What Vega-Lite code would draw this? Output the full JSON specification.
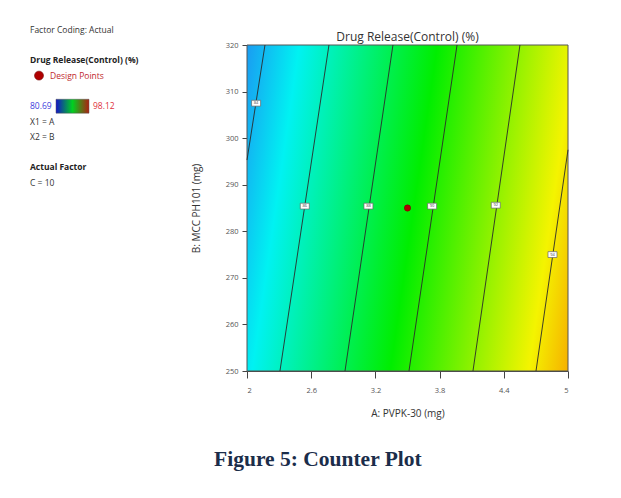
{
  "$schema": "https://vega.github.io/schema/vega-lite/v6.json",
  "autosize": {"type": "pad"},
  "padding": {"left": 20, "top": 25, "right": 5, "bottom": 5},
  "background": "white",
  "datasets": {
    "legend": [
      {"line": 1, "text": "Factor Coding: Actual", "role": "note"},
      {"line": 3, "text": "Drug Release(Control) (%)", "role": "heading"},
      {"line": 4, "text": "Design Points", "role": "entry"},
      {"line": 6, "text": "80.69", "role": "min"},
      {"line": 6, "text": "98.12", "role": "max"},
      {"line": 7, "text": "X1 = A", "role": "note"},
      {"line": 8, "text": "X2 = B", "role": "note"},
      {"line": 10, "text": "Actual Factor", "role": "heading"},
      {"line": 11, "text": "C = 10", "role": "note"}
    ],
    "region": [{"a_lo": 2, "a_hi": 5, "b_lo": 250, "b_hi": 320}],
    "contours": [
      {"level": 84, "A": 2.168, "B": 320}, {"level": 84, "A": 2.0, "B": 295.3},
      {"level": 86, "A": 2.766, "B": 320}, {"level": 86, "A": 2.308, "B": 250},
      {"level": 88, "A": 3.364, "B": 320}, {"level": 88, "A": 2.916, "B": 250},
      {"level": 90, "A": 3.963, "B": 320}, {"level": 90, "A": 3.514, "B": 250},
      {"level": 92, "A": 4.551, "B": 320}, {"level": 92, "A": 4.112, "B": 250},
      {"level": 94, "A": 5.0, "B": 297.5}, {"level": 94, "A": 4.701, "B": 250}
    ],
    "contourLabels": [
      {"level": 84, "A": 2.085, "B": 307.5},
      {"level": 86, "A": 2.54, "B": 285.4},
      {"level": 88, "A": 3.135, "B": 285.4},
      {"level": 90, "A": 3.73, "B": 285.4},
      {"level": 92, "A": 4.325, "B": 285.6},
      {"level": 94, "A": 4.855, "B": 275}
    ],
    "designPoints": [{"A": 3.5, "B": 285}]
  },
  "title": {
    "text": "Figure 5: Counter Plot",
    "orient": "bottom",
    "anchor": "middle",
    "font": "Liberation Serif",
    "fontSize": 21.5,
    "fontWeight": "bold",
    "color": "#1b2d4a",
    "offset": 30,
    "dx": 23
  },
  "bounds": "flush",
  "spacing": 207,
  "hconcat": [
    {
      "width": 20,
      "height": 306,
      "data": {"name": "legend"},
      "encoding": {
        "y": {"field": "line", "type": "quantitative", "scale": {"domain": [2, 22], "reverse": true, "nice": false, "zero": false}, "axis": null}
      },
      "layer": [
        {
          "transform": [{"filter": "datum.role === 'note'"}],
          "mark": {"type": "text", "align": "left", "baseline": "middle", "fontSize": 8.5, "color": "#333"},
          "encoding": {"text": {"field": "text"}}
        },
        {
          "transform": [{"filter": "datum.role === 'heading'"}],
          "mark": {"type": "text", "align": "left", "baseline": "middle", "fontSize": 8.5, "fontWeight": "bold", "color": "#222"},
          "encoding": {"text": {"field": "text"}}
        },
        {
          "transform": [{"filter": "datum.role === 'entry'"}],
          "mark": {"type": "point", "shape": "circle", "filled": true, "size": 80, "xOffset": 9, "fill": "#b00000", "stroke": "#700000", "strokeWidth": 0.6, "opacity": 1},
          "encoding": {}
        },
        {
          "transform": [{"filter": "datum.role === 'entry'"}],
          "mark": {"type": "text", "align": "left", "baseline": "middle", "fontSize": 8.5, "dx": 20, "color": "#c0282d"},
          "encoding": {"text": {"field": "text"}}
        },
        {
          "transform": [{"filter": "datum.role === 'min'"}],
          "mark": {"type": "text", "align": "left", "baseline": "middle", "fontSize": 8.5, "color": "#3c3cdc"},
          "encoding": {"text": {"field": "text"}}
        },
        {
          "transform": [{"filter": "datum.role === 'min'"}],
          "mark": {
            "type": "point", "shape": "M-1,-0.42L1,-0.42L1,0.42L-1,0.42Z", "size": 1089, "xOffset": 42.5, "filled": true, "opacity": 1,
            "fill": {"gradient": "linear", "x1": 0, "y1": 0, "x2": 1, "y2": 0, "stops": [
              {"offset": 0, "color": "#1414c8"}, {"offset": 0.5, "color": "#00d020"}, {"offset": 1, "color": "#b01e10"}
            ]},
            "stroke": "#555", "strokeWidth": 0.5
          },
          "encoding": {}
        },
        {
          "transform": [{"filter": "datum.role === 'max'"}],
          "mark": {"type": "text", "align": "left", "baseline": "middle", "fontSize": 8.5, "dx": 63, "color": "#e0303c"},
          "encoding": {"text": {"field": "text"}}
        }
      ]
    },
    {
      "width": 321,
      "height": 326,
      "title": {"text": "Drug Release(Control) (%)", "fontSize": 12, "fontWeight": "normal", "color": "#333", "offset": -3, "font": "Open Sans"},
      "layer": [
        {
          "data": {"name": "region"},
          "mark": {
            "type": "rect",
            "fill": {"gradient": "linear", "x1": 0, "y1": 0, "x2": 1.123, "y2": 0.165, "stops": [
              {"offset": 0, "color": "#1a9cf2"},
              {"offset": 0.142, "color": "#00f2f2"},
              {"offset": 0.517, "color": "#00ee00"},
              {"offset": 0.893, "color": "#f4f400"},
              {"offset": 1, "color": "#f6b000"}
            ]},
            "stroke": "#555", "strokeWidth": 1
          },
          "encoding": {
            "x": {"field": "a_lo", "type": "quantitative", "scale": {"domain": [2, 5], "nice": false, "zero": false},
                  "axis": {"title": "A: PVPK-30 (mg)", "values": [2, 2.6, 3.2, 3.8, 4.4, 5], "format": "~g"}},
            "x2": {"field": "a_hi"},
            "y": {"field": "b_lo", "type": "quantitative", "scale": {"domain": [250, 320], "nice": false, "zero": false},
                  "axis": {"title": "B: MCC PH101 (mg)", "values": [250, 260, 270, 280, 290, 300, 310, 320], "format": "d"}},
            "y2": {"field": "b_hi"}
          }
        },
        {
          "data": {"name": "contours"},
          "mark": {"type": "line", "stroke": "#2a2a2a", "strokeWidth": 0.9},
          "encoding": {
            "x": {"field": "A", "type": "quantitative"},
            "y": {"field": "B", "type": "quantitative"},
            "detail": {"field": "level"}
          }
        },
        {
          "data": {"name": "contourLabels"},
          "mark": {"type": "point", "shape": "M-1,-0.65L1,-0.65L1,0.65L-1,0.65Z", "size": 81, "filled": true, "fill": "white", "stroke": "#666", "strokeWidth": 0.7, "opacity": 1},
          "encoding": {
            "x": {"field": "A", "type": "quantitative"},
            "y": {"field": "B", "type": "quantitative"}
          }
        },
        {
          "data": {"name": "contourLabels"},
          "mark": {"type": "text", "fontSize": 4, "color": "#444", "baseline": "middle", "align": "center"},
          "encoding": {
            "x": {"field": "A", "type": "quantitative"},
            "y": {"field": "B", "type": "quantitative"},
            "text": {"field": "level"}
          }
        },
        {
          "data": {"name": "designPoints"},
          "mark": {"type": "point", "shape": "circle", "filled": true, "size": 40, "fill": "#b00000", "stroke": "#700000", "strokeWidth": 0.5, "opacity": 1},
          "encoding": {
            "x": {"field": "A", "type": "quantitative"},
            "y": {"field": "B", "type": "quantitative"}
          }
        }
      ]
    }
  ],
  "config": {
    "view": {"stroke": null},
    "font": "Open Sans",
    "text": {"font": "Open Sans"},
    "axis": {
      "labelFont": "Open Sans", "labelFontSize": 7.5, "labelColor": "#555",
      "titleFont": "Open Sans", "titleFontSize": 10, "titleFontWeight": "normal", "titleColor": "#333",
      "domainColor": "#444", "tickColor": "#444", "grid": false, "zindex": 1
    },
    "axisX": {"tickSize": 7, "labelPadding": 8, "titlePadding": 15},
    "axisY": {"tickSize": 5, "labelPadding": 4, "titlePadding": 24}
  }
}
